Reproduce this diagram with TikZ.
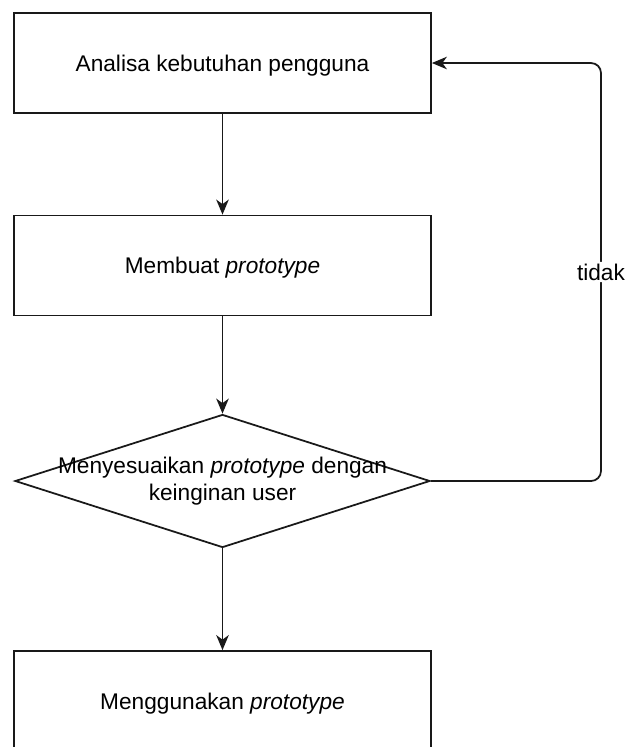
\documentclass[tikz,border=0pt]{standalone}
\usepackage{fontspec}
\setmainfont{Liberation Sans}
\usetikzlibrary{shapes.geometric,arrows.meta}

\tikzset{
	proses/.style={draw=black!90, line width=1pt, minimum width=8.34cm, minimum height=2cm, inner sep=0pt, text depth=-0.1cm},
	keputusan/.style={draw=black!90, diamond, line width=1pt, minimum width=8.3cm, minimum height=2.66cm, inner sep=0pt},
	panah/.style={draw=black!90, line width=1pt, -{Stealth[length=3mm, width=2.5mm, inset=0.9mm]}},
}
\newcommand{\duabaris}[2]{\raisebox{-0.22cm}{\parbox[c][0pt][c]{0pt}{\centering\makebox[0pt]{#1}\\\makebox[0pt]{#2}}}}

\begin{document}
\begin{tikzpicture}[font=\fontsize{12.9}{15.5}\selectfont]
		\useasboundingbox (0,0) rectangle (12.5,-14.94);
		\node[proses] (analisa) at (4.45,-1.26) {Analisa kebutuhan pengguna};
		\node[proses] (buat) at (4.45,-5.31) {Membuat \textit{prototype}};
		\node[keputusan] (sesuai) at (4.45,-9.62) {\duabaris{Menyesuaikan \textit{prototype} dengan}{keinginan user}};
		\node[proses] (guna) at (4.45,-14.02) {Menggunakan \textit{prototype}};
		\coordinate (belok) at (12.02,-1.26);
		
		\draw[panah] (analisa) -- (buat);
		\draw[panah] (buat) -- (sesuai);
		\draw[panah] (sesuai) -- (guna);
		\draw[panah, rounded corners=0.2cm] (sesuai.east) -| node[pos=0.75, fill=white, inner sep=1pt] (tidak) {tidak} (belok) -- (analisa.east);
	\end{tikzpicture}
\end{document}
